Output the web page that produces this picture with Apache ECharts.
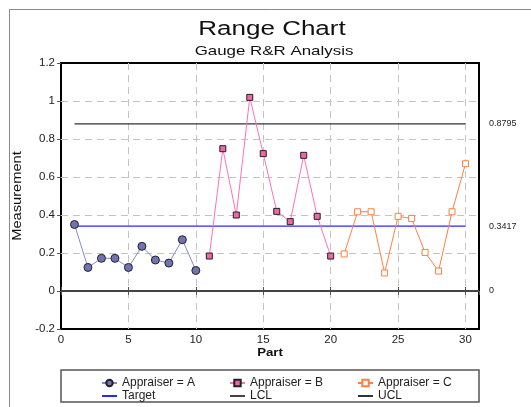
<!DOCTYPE html>
<html><head><meta charset="utf-8">
<script src="https://cdn.jsdelivr.net/npm/echarts@6/dist/echarts.min.js"></script>
<style>html,body{margin:0;padding:0;background:#fff}#c{width:531px;height:407px}</style>
</head><body><div id="c"></div>
<script>
const partsA = [1,2,3,4,5,6,7,8,9,10];
const valuesA = [0.350,0.124,0.172,0.172,0.124,0.235,0.163,0.147,0.270,0.108];
const partsB = [11,12,13,14,15,16,17,18,19,20];
const valuesB = [0.184,0.749,0.400,1.019,0.723,0.419,0.365,0.714,0.393,0.184];
const partsC = [21,22,23,24,25,26,27,28,29,30];
const valuesC = [0.195,0.417,0.417,0.095,0.393,0.382,0.203,0.105,0.417,0.670];
const target = 0.3417, ucl = 0.8795, lcl = 0;
const limitStart = 1, limitEnd = 30;
const rightLabels = [0, 0.3417, 0.8795];

const pairs = (xs, ys) => xs.map((x, i) => [x, ys[i]]);
const FONT = 'Liberation Sans, Arial, sans-serif';
const chart = echarts.init(document.getElementById('c'), null, {renderer: 'canvas'});

const gridLine = () => ({show: true, showMinLine: false, showMaxLine: false, lineStyle: {color: '#c4c4c4', type: [7, 5], width: 1}});
const legText = {fontSize: 12, color: '#222', fontFamily: FONT};
const noMark = name => ({name: name, itemStyle: {opacity: 0}});
chart.setOption({
  animation: false,
  textStyle: {fontFamily: FONT},
  grid: {left: 61, top: 63, right: 52, bottom: 78, show: true, borderColor: '#000', borderWidth: 2},
  xAxis: [
    {type: 'value', position: 'bottom', min: 0, max: 31, interval: 5,
     axisLine: {show: false}, axisTick: {show: true, inside: true, length: 4, lineStyle: {color: '#555'}},
     axisLabel: {fontSize: 11.5, color: '#222', margin: 5, showMaxLabel: false, fontFamily: FONT},
     splitLine: gridLine()},
    {type: 'value', position: 'top', min: 0, max: 31, interval: 5,
     axisLine: {show: false}, axisTick: {show: true, inside: true, length: 4, lineStyle: {color: '#555'}},
     axisLabel: {show: false}, splitLine: {show: false}}
  ],
  yAxis: [
    {type: 'value', position: 'left', min: -0.2, max: 1.2, interval: 0.2,
     axisLine: {show: false}, axisTick: {show: false},
     axisLabel: {fontSize: 11.5, color: '#222', margin: 6, fontFamily: FONT},
     splitLine: gridLine()},
    {type: 'value', position: 'right', min: -0.2, max: 1.2, interval: 0.2,
     axisLine: {show: false}, axisTick: {show: true, inside: true, length: 4, lineStyle: {color: '#555'}},
     axisLabel: {customValues: rightLabels, fontSize: 9, color: '#222', margin: 10, fontFamily: FONT,
                 formatter: v => String(v)},
     splitLine: {show: false}}
  ],
  legend: [
    {orient: 'vertical', left: 96, top: 372, itemWidth: 15, itemHeight: 8, itemGap: 1,
     data: ['Appraiser = A', noMark('Target')], textStyle: legText},
    {orient: 'vertical', left: 224, top: 372, itemWidth: 15, itemHeight: 8, itemGap: 1,
     data: ['Appraiser = B', noMark('LCL')], textStyle: legText},
    {orient: 'vertical', left: 352, top: 372, itemWidth: 15, itemHeight: 8, itemGap: 1,
     data: ['Appraiser = C', noMark('UCL')], textStyle: legText}
  ],
  graphic: [
    {type: 'rect', shape: {x: 9.5, y: 9.5, width: 600, height: 600}, style: {fill: 'none', stroke: '#8a8a8a', lineWidth: 1}, silent: true},
    {type: 'rect', shape: {x: 61, y: 370, width: 418, height: 32}, style: {fill: 'none', stroke: '#555', lineWidth: 1.5}, silent: true},
    {type: 'text', x: 272, y: 29, scaleX: 1.3, style: {text: 'Range Chart', font: '20px ' + FONT, fill: '#111', textAlign: 'center', textVerticalAlign: 'middle'}},
    {type: 'text', x: 274, y: 51, scaleX: 1.3, style: {text: 'Gauge R&R Analysis', font: '13px ' + FONT, fill: '#111', textAlign: 'center', textVerticalAlign: 'middle'}},
    {type: 'text', x: 18, y: 196, rotation: Math.PI / 2, scaleX: 1.22, style: {text: 'Measurement', font: '12px ' + FONT, fill: '#111', textAlign: 'center', textVerticalAlign: 'middle'}},
    {type: 'text', x: 270, y: 353, scaleX: 1.15, style: {text: 'Part', font: 'bold 11.5px ' + FONT, fill: '#111', textAlign: 'center', textVerticalAlign: 'middle'}}
  ],
  series: [
    {name: 'LCL', type: 'line', data: [[0, lcl], [31, lcl]], symbol: 'none', z: 3,
     color: '#444', lineStyle: {color: '#444', width: 2}},
    {name: 'UCL', type: 'line', data: [[limitStart, ucl], [limitEnd, ucl]], symbol: 'none', z: 3,
     color: '#333', lineStyle: {color: '#333', width: 1.3}},
    {name: 'Target', type: 'line', data: [[limitStart, target], [limitEnd, target]], symbol: 'none', z: 3,
     color: '#2828ff', lineStyle: {color: '#2828ff', width: 1.2}},
    {name: 'Appraiser = A', type: 'line', data: pairs(partsA, valuesA), symbol: 'circle', symbolSize: 8, z: 5,
     lineStyle: {color: '#8588cc', width: 1}, itemStyle: {color: '#7174b4', borderColor: '#222', borderWidth: 1}},
    {name: 'Appraiser = B', type: 'line', data: pairs(partsB, valuesB), symbol: 'rect', symbolSize: 6, z: 5,
     lineStyle: {color: '#ff70b8', width: 1}, itemStyle: {color: '#ee68a8', borderColor: '#222', borderWidth: 1}},
    {name: 'Appraiser = C', type: 'line', data: pairs(partsC, valuesC), symbol: 'rect', symbolSize: 6, z: 5,
     lineStyle: {color: '#ff7f40', width: 1}, itemStyle: {color: '#fff', borderColor: '#ff7f40', borderWidth: 1}}
  ]
});
</script></body></html>
